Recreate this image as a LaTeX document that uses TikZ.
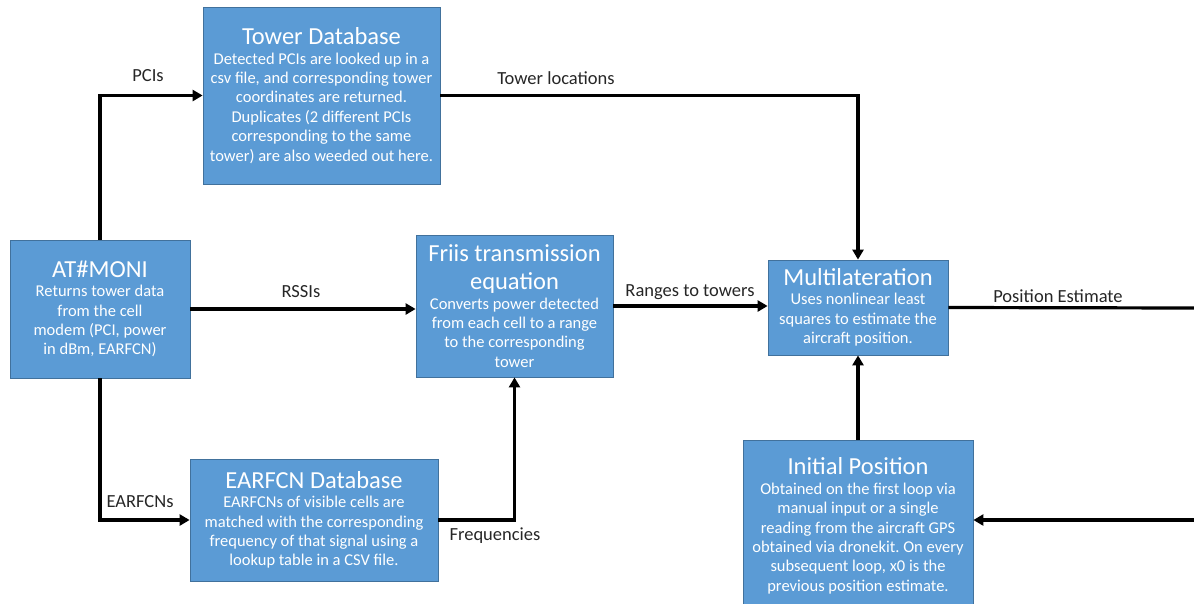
\documentclass[tikz,border=0pt]{standalone}
\usepackage{fontspec}
\setmainfont{Carlito}
\usetikzlibrary{positioning,arrows.meta}
\definecolor{cajaazul}{HTML}{5B9BD5}
\definecolor{bordeazul}{HTML}{41719C}
\frenchspacing
\tikzset{
  caja/.style={draw=bordeazul, line width=0.8pt, fill=cajaazul, text=white, align=center,
    inner sep=2pt, font=\fontsize{16.5}{19.4}\selectfont},
  flecha/.style={draw, line width=3.2pt, -{Triangle[length=10pt,width=11pt]}},
  linea/.style={draw, line width=3.2pt},
  etiqueta/.style={font=\fontsize{18.5}{21}\selectfont, text=black!85},
}
\newcommand{\titulo}[1]{{\fontsize{24.5}{28.5}\selectfont #1}}

\begin{document}
\begin{tikzpicture}[x=1pt, y=-1pt]
      \useasboundingbox (0,0) rectangle (1194,603);
      % cajas
      \node[caja, minimum width=180pt, minimum height=138pt] (moni) at (100,309)
        {\titulo{AT\#MONI}\\Returns tower data\\from the cell\\modem (PCI, power\\in dBm, EARFCN)};
      \node[caja, minimum width=237pt, minimum height=177pt] (torres) at (321.5,95.5)
        {\titulo{Tower Database}\\Detected PCIs are looked up in a\\csv file, and corresponding tower\\coordinates are returned.\\Duplicates (2 different PCIs\\corresponding to the same\\tower) are also weeded out here.};
      \node[caja, minimum width=197pt, minimum height=142pt] (friis) at (514.5,306)
        {\titulo{Friis transmission}\\[9pt]\titulo{equation}\\Converts power detected\\from each cell to a range\\to the corresponding\\tower};
      \node[caja, minimum width=248pt, minimum height=122pt] (earfcn) at (314,520)
        {\titulo{EARFCN Database}\\EARFCNs of visible cells are\\matched with the corresponding\\frequency of that signal using a\\lookup table in a CSV file.};
      \node[caja, minimum width=180pt, minimum height=95pt] (multi) at (858,307.5)
        {\titulo{Multilateration}\\Uses nonlinear least\\squares to estimate the\\aircraft position.};
      \node[caja, minimum width=230pt, minimum height=172pt] (inicial) at (858,526)
        {\titulo{Initial Position}\\Obtained on the first loop via\\manual input or a single\\reading from the aircraft GPS\\obtained via dronekit. On every\\subsequent loop, x0 is the\\previous position estimate.};
      % extremos libres
      \coordinate (salida) at (1194,308);
      \coordinate (entrada) at (1194,520);
      % conectores
      \draw[flecha] (moni.north) |- (torres.west);
      \draw[flecha] (torres.east) -| (multi.north);
      \draw[flecha] (moni.east) -- (moni.east -| friis.west);
      \draw[flecha] (friis.east) -- (friis.east -| multi.west);
      \draw[flecha] (moni.south) |- (earfcn.west);
      \draw[flecha] (earfcn.east) -| (friis.south);
      \draw[linea] (multi.east) -- (salida);
      \draw[flecha] (entrada) -- (entrada -| inicial.east);
      \draw[flecha] (inicial.north) -- (multi.south);
      % etiquetas
      \node[etiqueta] (lpci) at (148,76) {PCIs};
      \node[etiqueta] (ltorres) at (556,78) {Tower locations};
      \node[etiqueta] (lrssi) at (301,292) {RSSIs};
      \node[etiqueta] (lrangos) at (690,292) {Ranges to towers};
      \node[etiqueta] (learfcn) at (140,502) {EARFCNs};
      \node[etiqueta] (lfrec) at (495,536) {Frequencies};
      \node[etiqueta] (lpos) at (1058,296) {Position Estimate};
    \end{tikzpicture}
\end{document}
